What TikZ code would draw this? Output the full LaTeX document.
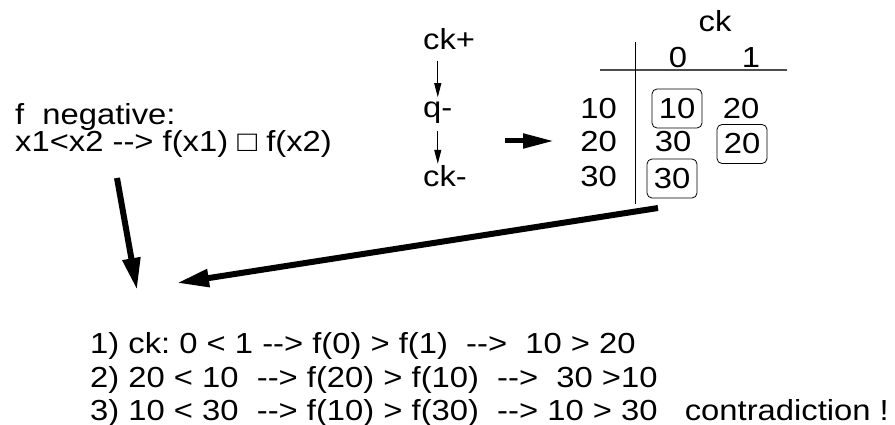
\documentclass[tikz,border=0pt]{standalone}
\usepackage{fontspec}
\newfontfamily\diagfont[FakeStretch=1.13]{Liberation Sans}
\usetikzlibrary{arrows.meta}
\frenchspacing
\begin{document}
\begin{tikzpicture}[x=1pt, y=-1pt,
    every node/.style={font=\diagfont\fontsize{29}{33}\selectfont, inner sep=0pt},
    boxed/.style={draw, rounded corners=5pt, line width=0.8pt, minimum width=50pt, minimum height=39pt},
    bigarrow/.style={line width=6pt, -{Triangle[length=32pt, width=17pt]}},
    midarrow/.style={line width=5pt, -{Triangle[length=31pt, width=14pt]}},
    smallarrow/.style={line width=1pt, -{Triangle[length=14pt, width=7pt]}}]
    \useasboundingbox (0,0) rectangle (895,425);
    % the property of f
    \node[anchor=base west] (fneg) at (15,125) {f\ \ negative:};
    \node[anchor=base west] (fcomp) at (15,152) {x1<x2 --> f(x1) □ f(x2)};
    % the ck / q sequence
    \node[anchor=base west] (ckp) at (423,50) {ck+};
    \node[anchor=base west] (qm) at (423,118) {q-};
    \node[anchor=base west] (ckm) at (423,187) {ck-};
    \draw[smallarrow, shorten <=11pt, shorten >=5pt] (ckp.south -| qm.center) -- (qm.north);
    \draw[smallarrow, shorten <=7pt, shorten >=2pt] (qm.south) -- (ckm.north -| qm.center);
    \coordinate (mtail) at (505,141);
    \coordinate (mhead) at (554,141);
    \draw[midarrow] (mtail) -- (mhead);
    % the table of the values over ck
    \node[anchor=base] (ckhead) at (715,32) {ck};
    \node[anchor=base] (col0) at (678,68) {0};
    \node[anchor=base] (col1) at (751,68) {1};
    \coordinate (hleft) at (600,70);
    \coordinate (hright) at (787,70);
    \coordinate (vtop) at (635,42);
    \coordinate (vbot) at (635,204);
    \draw[line width=1.6pt, black!70] (hleft) -- (hright);
    \draw[line width=0.9pt] (vtop) -- (vbot);
    \foreach \y/\lab in {109/10, 142/20, 177/30}{
        \node[anchor=east] (row\lab) at (617,\y) {\lab};
    }
    \node[boxed] (a10) at (677,108.5) {10};
    \node (b20) at (741,109) {20};
    \node (a30) at (673,142) {30};
    \node[boxed] (b20x) at (742,144) {20};
    \node[boxed] (a30x) at (672,178.5) {30};
    % the two arrows down to the conclusion
    \coordinate (ltail) at (117,178);
    \coordinate (lhead) at (137,290);
    \coordinate (rtail) at (658,208);
    \coordinate (rhead) at (177,283);
    \draw[bigarrow] (ltail) -- (lhead);
    \draw[bigarrow] (rtail) -- (rhead);
    % the three steps
    \node[anchor=base west] (step1) at (90,353) {1) ck: 0 < 1 --> f(0) > f(1)\ \ -->\ \ 10 > 20};
    \node[anchor=base west] (step2) at (90,387) {2) 20 < 10\ \ --> f(20) > f(10)\ \ -->\ \ 30 >10};
    \node[anchor=base west] (step3) at (90,420) {3) 10 < 30\ \ --> f(10) > f(30)\ \ --> 10 > 30\ \ \ contradiction !};
\end{tikzpicture}
\end{document}
